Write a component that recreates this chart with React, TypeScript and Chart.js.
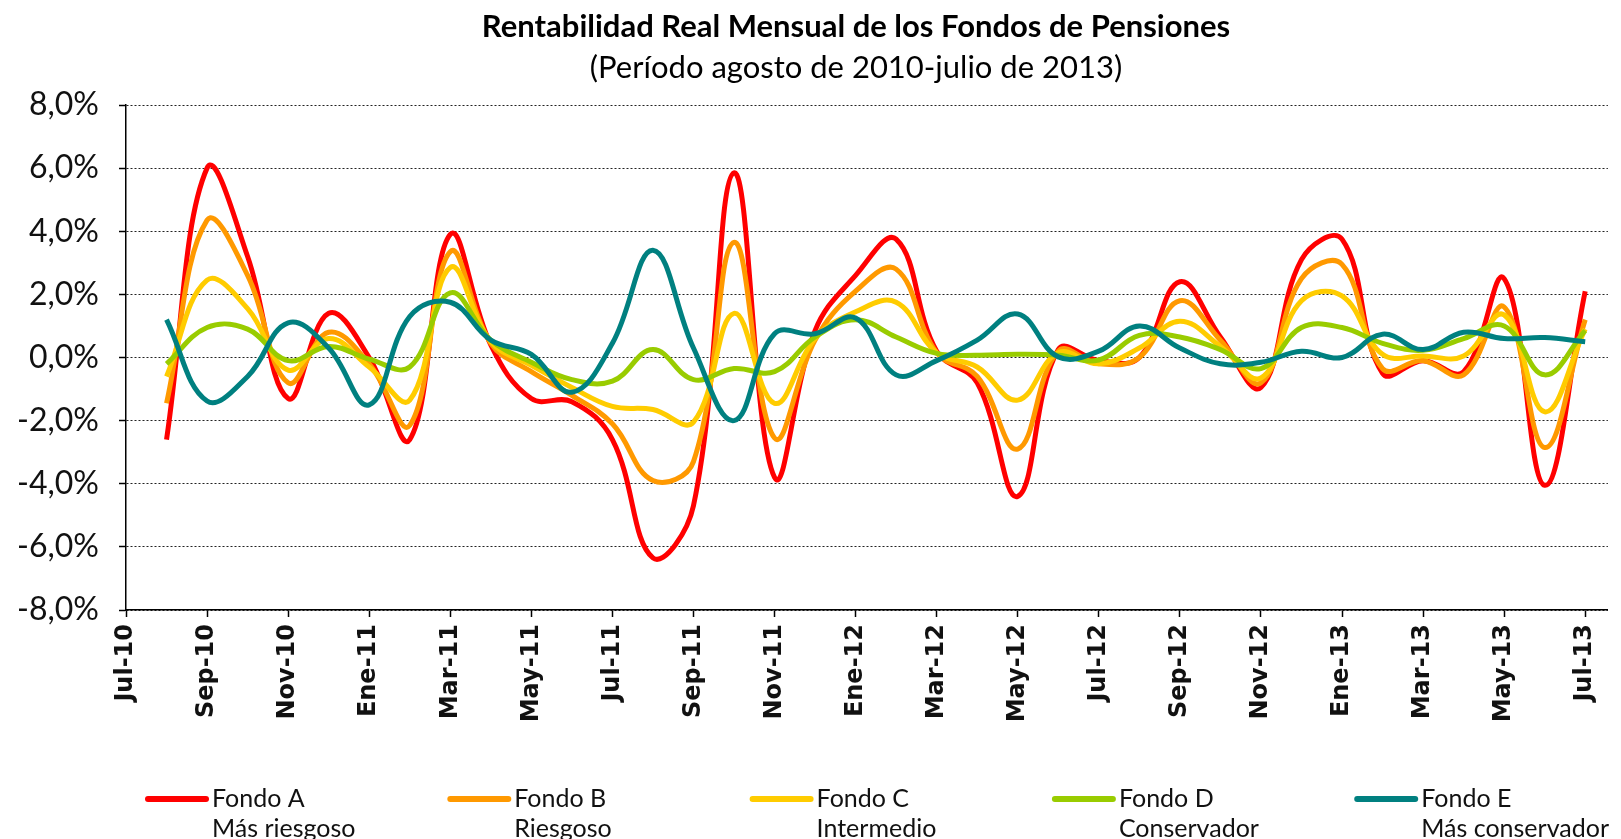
import React, { useEffect, useRef } from 'react';
import { Chart, registerables } from 'chart.js';

Chart.register(...registerables);

const TITLE = 'Rentabilidad Real Mensual de los Fondos de Pensiones';
const SUBTITLE = '(Período agosto de 2010-julio de 2013)';

// Data months: Ago-10 … Jul-13 (x = months since Jul-10)
const months = [
  'Ago-10', 'Sep-10', 'Oct-10', 'Nov-10', 'Dic-10', 'Ene-11', 'Feb-11', 'Mar-11', 'Abr-11', 'May-11', 'Jun-11', 'Jul-11',
  'Ago-11', 'Sep-11', 'Oct-11', 'Nov-11', 'Dic-11', 'Ene-12', 'Feb-12', 'Mar-12', 'Abr-12', 'May-12', 'Jun-12', 'Jul-12',
  'Ago-12', 'Sep-12', 'Oct-12', 'Nov-12', 'Dic-12', 'Ene-13', 'Feb-13', 'Mar-13', 'Abr-13', 'May-13', 'Jun-13', 'Jul-13',
];

const tickLabels = [
  'Jul-10', 'Sep-10', 'Nov-10', 'Ene-11', 'Mar-11', 'May-11', 'Jul-11', 'Sep-11', 'Nov-11', 'Ene-12',
  'Mar-12', 'May-12', 'Jul-12', 'Sep-12', 'Nov-12', 'Ene-13', 'Mar-13', 'May-13', 'Jul-13',
];

const fondoA = [
  -2.6, 6.0, 3.2, -1.3, 1.4, 0.0, -2.6, 3.9, 0.4, -1.3, -1.4, -2.6,
  -6.35, -4.7, 5.85, -3.8, 0.85, 2.6, 3.75, 0.2, -0.8, -4.4, 0.25, -0.1,
  0.0, 2.4, 0.65, -0.95, 3.1, 3.75, -0.5, -0.1, -0.45, 2.5, -4.05, 2.1,
];
const fondoB = [
  -1.45, 4.35, 2.6, -0.8, 0.8, -0.2, -2.15, 3.35, 0.45, -0.45, -1.2, -2.1,
  -3.9, -3.3, 3.65, -2.55, 0.55, 2.1, 2.8, 0.15, -0.6, -2.9, 0.2, -0.2,
  0.0, 1.8, 0.55, -0.8, 2.5, 2.95, -0.35, -0.1, -0.55, 1.6, -2.85, 1.2,
];
const fondoC = [
  -0.6, 2.45, 1.55, -0.4, 0.6, -0.3, -1.35, 2.85, 0.5, -0.25, -0.95, -1.55,
  -1.65, -2.05, 1.4, -1.45, 0.6, 1.45, 1.75, 0.15, -0.3, -1.35, 0.15, -0.2,
  0.3, 1.15, 0.35, -0.65, 1.8, 1.95, 0.1, 0.05, 0.05, 1.35, -1.72, 0.9,
];
const fondoD = [
  -0.2, 0.95, 0.9, -0.1, 0.35, -0.05, -0.3, 2.05, 0.55, -0.15, -0.7, -0.75,
  0.25, -0.7, -0.35, -0.45, 0.65, 1.2, 0.65, 0.13, 0.07, 0.1, 0.07, -0.08,
  0.7, 0.65, 0.25, -0.35, 0.95, 0.95, 0.45, 0.23, 0.6, 1.0, -0.55, 0.85,
];
const fondoE = [
  1.2, -1.38, -0.6, 1.1, 0.3, -1.5, 1.3, 1.75, 0.55, 0.1, -1.1, 0.45,
  3.4, 0.3, -2.0, 0.75, 0.75, 1.25, -0.55, -0.1, 0.55, 1.38, 0.02, 0.2,
  1.0, 0.3, -0.2, -0.15, 0.2, 0.0, 0.74, 0.25, 0.8, 0.6, 0.63, 0.5,
];

const seriesNames = ['Fondo A', 'Fondo B', 'Fondo C', 'Fondo D', 'Fondo E'];
const riskLabels = ['Más riesgoso', 'Riesgoso', 'Intermedio', 'Conservador', 'Más conservador'];
const seriesColors = ['#FF0000', '#FF9900', '#FFCC00', '#99CC00', '#008080'];
const seriesValues = [fondoA, fondoB, fondoC, fondoD, fondoE];

const overlayPlugin = {
  id: 'overlayText',
  afterDraw(chart: any) {
    const ctx = chart.ctx as CanvasRenderingContext2D;
    ctx.save();
    ctx.fillStyle = '#000';
    ctx.textBaseline = 'middle';
    ctx.textAlign = 'center';
    ctx.font = 'bold 31px Lato';
    ctx.fillText(TITLE, 856, 27);
    ctx.font = '31px Lato';
    ctx.fillText(SUBTITLE, 856, 68);

    chart.data.datasets.forEach((ds: any, i: number) => {
      const x0 = 148 + i * 302.3;
      ctx.strokeStyle = ds.borderColor;
      ctx.lineWidth = 6;
      ctx.lineCap = 'round';
      ctx.beginPath();
      ctx.moveTo(x0, 799);
      ctx.lineTo(x0 + 58, 799);
      ctx.stroke();
      ctx.textAlign = 'left';
      ctx.fillStyle = '#111';
      ctx.font = '25px Lato';
      ctx.fillText(ds.label, x0 + 64, 799);
      ctx.fillText(riskLabels[i], x0 + 64, 829);
    });
    ctx.restore();
  },
};

export default function App() {
  const canvasRef = useRef<HTMLCanvasElement | null>(null);

  useEffect(() => {
    const canvas = canvasRef.current;
    if (!canvas) return;
    const chart = new Chart(canvas, {
      type: 'line',
      data: {
        datasets: seriesValues.map((vals, i) => ({
          label: seriesNames[i],
          data: vals.map((v, j) => ({ x: j + 1, y: v })),
          borderColor: seriesColors[i],
          backgroundColor: seriesColors[i],
          borderWidth: 5,
          pointRadius: 0,
          tension: 0.4,
          fill: false,
          order: 4 - i,
        })),
      },
      options: {
        responsive: false,
        animation: false,
        layout: { padding: { top: 105, left: 0, right: 0, bottom: 0 } },
        plugins: {
          legend: { display: false },
          tooltip: { enabled: false },
          title: { display: false },
        },
        scales: {
          x: {
            type: 'linear',
            min: 0,
            max: 36.56,
            afterBuildTicks: (s: any) => {
              s.ticks = tickLabels.map((_, i) => ({ value: i * 2 }));
            },
            afterFit: (s: any) => {
              s.height = 229;
            },
            ticks: {
              callback: (v: any) => tickLabels[Math.round(Number(v) / 2)],
              minRotation: 90,
              maxRotation: 90,
              autoSkip: false,
              font: { family: 'DejaVu Sans', weight: 'bold', size: 24 },
              color: '#111',
              padding: 7,
            },
            grid: {
              drawOnChartArea: false,
              drawTicks: true,
              tickLength: 7,
              tickColor: '#000',
              tickWidth: 1.5,
            },
            border: { display: true, color: '#000', width: 1.5 },
          },
          y: {
            min: -8,
            max: 8,
            afterFit: (s: any) => {
              s.width = 126;
            },
            ticks: {
              stepSize: 2,
              callback: (v: any) => Number(v).toFixed(1).replace('.', ',') + '%',
              font: { family: 'Lato', size: 32 },
              color: '#111',
              padding: 20,
            },
            grid: {
              color: '#222',
              lineWidth: 1,
              drawTicks: true,
              tickLength: 7,
              tickColor: '#000',
              tickWidth: 1.5,
            },
            border: { display: true, color: '#000', width: 1.5, dash: [2, 2] },
          },
        },
      },
      plugins: [overlayPlugin],
    });
    return () => chart.destroy();
  }, []);

  return (
    <div style={{ position: 'absolute', left: 0, top: 0, width: 1621, height: 839, overflow: 'hidden', background: '#fff' }}>
      <canvas ref={canvasRef} width={1621} height={839} style={{ width: 1621, height: 839, display: 'block' }} />
    </div>
  );
}
